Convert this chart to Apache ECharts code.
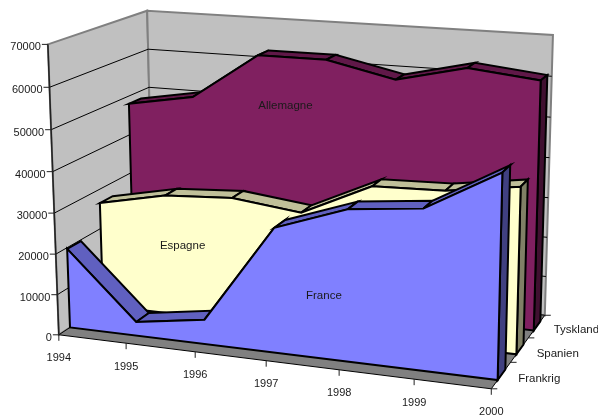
<!DOCTYPE html>
<html>
<head>
<meta charset="utf-8">
<script src="https://cdn.jsdelivr.net/npm/echarts@6/dist/echarts.min.js"></script>
<style>
  html, body { margin: 0; padding: 0; background: #fff; }
  #chart { width: 598px; height: 416px; }
</style>
</head>
<body>
<div id="chart"></div>
<script>
const years = ['1994', '1995', '1996', '1997', '1998', '1999', '2000'];
const yTicks = [0, 10000, 20000, 30000, 40000, 50000, 60000, 70000];
const depthLabels = ['Frankrig', 'Spanien', 'Tyskland'];

const france = [19700, 3400, 6000, 30000, 36000, 37800, 47500];
const espagne = [26500, 30000, 31000, 29000, 37000, 37500, 40000];
const allemagne = [48000, 51000, 62700, 62700, 59000, 63000, 61200];

// 3D box corners on screen, used to fit the perspective of the original picture
const boxCorners = [
    [0, 0, 0, 59, 335],
    [1, 0, 0, 491, 389],
    [1, 0, 1, 545, 315],
    [0, 0, 1, 153.5, 272],
    [0, 1, 0, 48, 44],
    [0, 1, 1, 147, 11],
    [1, 1, 1, 553, 35]
];

// least squares fit of a 3x4 camera matrix (last entry fixed to 1)
function fitCamera(pairs) {
    const n = 11;
    const ata = Array.from({ length: n }, () => new Array(n + 1).fill(0));
    const addRow = (row, b) => {
        for (let r = 0; r < n; r++) {
            for (let c = 0; c < n; c++) ata[r][c] += row[r] * row[c];
            ata[r][n] += row[r] * b;
        }
    };
    pairs.forEach(([u, v, w, px, py]) => {
        const X = px / 100, Y = py / 100;
        addRow([u, v, w, 1, 0, 0, 0, 0, -X * u, -X * v, -X * w], X);
        addRow([0, 0, 0, 0, u, v, w, 1, -Y * u, -Y * v, -Y * w], Y);
    });
    for (let i = 0; i < n; i++) {
        let best = i;
        for (let r = i + 1; r < n; r++) if (Math.abs(ata[r][i]) > Math.abs(ata[best][i])) best = r;
        [ata[i], ata[best]] = [ata[best], ata[i]];
        for (let r = 0; r < n; r++) {
            if (r === i) continue;
            const f = ata[r][i] / ata[i][i];
            for (let c = i; c <= n; c++) ata[r][c] -= f * ata[i][c];
        }
    }
    return ata.map((row, i) => row[n] / row[i]);
}

const cam = fitCamera(boxCorners);

function project(u, v, w) {
    const d = cam[8] * u + cam[9] * v + cam[10] * w + 1;
    return [
        100 * (cam[0] * u + cam[1] * v + cam[2] * w + cam[3]) / d,
        100 * (cam[4] * u + cam[5] * v + cam[6] * w + cam[7]) / d
    ];
}

// data value -> axis pixel (ECharts scales) -> unit box -> screen
function toScreen(api, yearIndex, value, w) {
    const o = api.coord([0, 0]);
    const e = api.coord([years.length - 1, yTicks[yTicks.length - 1]]);
    const p = api.coord([yearIndex, value]);
    return project((p[0] - o[0]) / (e[0] - o[0]), (p[1] - o[1]) / (e[1] - o[1]), w);
}

const FONT = '11px "Liberation Sans", Arial, sans-serif';
const BIG_FONT = '11.5px "Liberation Sans", Arial, sans-serif';

function poly(points, fill, stroke, lineWidth, z2) {
    return { type: 'polygon', shape: { points }, style: { fill, stroke, lineWidth }, z2 };
}

function line(a, b, stroke, lineWidth, z2) {
    return { type: 'line', shape: { x1: a[0], y1: a[1], x2: b[0], y2: b[1] }, style: { stroke, lineWidth }, z2 };
}

function label(text, x, y, align, font) {
    return { type: 'text', style: { text, x, y, align, verticalAlign: 'middle', fill: '#1a1a1a', font: font || FONT }, z2: 20 };
}

function renderFrame(params, api) {
    const last = years.length - 1;
    const top = yTicks[yTicks.length - 1];
    const at = (i, v, w) => toScreen(api, i, v, w);
    const children = [];

    // walls and floor
    children.push(poly([at(0, 0, 0), at(0, top, 0), at(0, top, 1), at(0, 0, 1)], '#c0c0c0', '#808080', 2, 1));
    children.push(poly([at(0, 0, 1), at(0, top, 1), at(last, top, 1), at(last, 0, 1)], '#c0c0c0', '#808080', 2, 1));
    children.push(poly([at(0, 0, 0), at(last, 0, 0), at(last, 0, 1), at(0, 0, 1)], '#808080', '#000', 1, 2));

    // gridlines
    yTicks.slice(1, -1).forEach(t => {
        children.push(line(at(0, t, 0), at(0, t, 1), '#000', 1, 3));
        children.push(line(at(0, t, 1), at(last, t, 1), '#000', 1, 3));
    });

    // value axis
    children.push(line(at(0, 0, 0), at(0, top, 0), '#222', 1.5, 4));
    yTicks.forEach(t => {
        const p = at(0, t, 0);
        children.push(line(p, [p[0] - 6, p[1]], '#222', 1, 4));
        children.push(label(String(t), p[0] - 7, p[1] + 3, 'right'));
    });

    // year axis
    years.forEach((y, i) => {
        const p = at(i, 0, 0);
        children.push(line(p, [p[0], p[1] + 6], '#222', 1, 4));
        children.push(label(y, p[0], p[1] + 23.5, 'center'));
    });

    // depth axis
    for (let d = 0; d <= depthLabels.length; d++) {
        const p = at(last, 0, d / depthLabels.length);
        children.push(line(p, [p[0] + 6, p[1]], '#222', 1, 4));
    }
    depthLabels.forEach((name, d) => {
        const p = at(last, 0, (d + 0.5) / depthLabels.length);
        children.push(label(name, p[0] + 17, p[1] + 3.5, 'left', BIG_FONT));
    });

    return { type: 'group', children };
}

// one band of the 3D area chart
function makeArea(values, depthIndex, colors, name, labelPos) {
    const wFront = (depthIndex + 0.32) / depthLabels.length;
    const wBack = (depthIndex + 0.72) / depthLabels.length;
    return (params, api) => {
        const i = params.dataIndex;
        const last = values.length - 1;
        const children = [];
        if (i < last) {
            children.push(poly([
                toScreen(api, i, values[i], wFront),
                toScreen(api, i + 1, values[i + 1], wFront),
                toScreen(api, i + 1, values[i + 1], wBack),
                toScreen(api, i, values[i], wBack)
            ], colors.top, '#000', 2, 1));
        } else {
            children.push(poly([
                toScreen(api, i, values[i], wFront),
                toScreen(api, i, values[i], wBack),
                toScreen(api, i, 0, wBack),
                toScreen(api, i, 0, wFront)
            ], colors.side, '#000', 2, 1));
        }
        if (i === 0) {
            const pts = values.map((v, k) => toScreen(api, k, v, wFront));
            pts.push(toScreen(api, last, 0, wFront), toScreen(api, 0, 0, wFront));
            children.push(poly(pts, colors.face, '#000', 2, 2));
            const c = toScreen(api, labelPos[0], labelPos[1], wFront);
            children.push(label(name, c[0], c[1], 'center', BIG_FONT));
        }
        return { type: 'group', children };
    };
}

function areaSeries(values, depthIndex, colors, name, labelPos) {
    return {
        type: 'custom',
        name,
        silent: true,
        z: 5 - depthIndex,
        renderItem: makeArea(values, depthIndex, colors, name, labelPos),
        data: values.map((v, i) => [i, v])
    };
}

const chart = echarts.init(document.getElementById('chart'));

chart.setOption({
    animation: false,
    backgroundColor: '#fff',
    grid: { left: 0, right: 0, top: 0, bottom: 0 },
    // value axis over the year indexes, a category axis would round the label positions
    xAxis: { type: 'value', min: 0, max: years.length - 1, interval: 1, show: false },
    yAxis: { type: 'value', min: 0, max: 70000, interval: 10000, show: false },
    series: [
        { type: 'custom', name: 'frame', silent: true, z: 1, renderItem: renderFrame, data: [[0, 0]] },
        areaSeries(allemagne, 2, { face: '#802060', top: '#601848', side: '#401030' }, 'Allemagne', [2.4, 50500]),
        areaSeries(espagne, 1, { face: '#ffffcc', top: '#c0c099', side: '#808066' }, 'Espagne', [1.25, 17700]),
        areaSeries(france, 0, { face: '#8080ff', top: '#6060c0', side: '#404080' }, 'France', [3.68, 15100])
    ]
});
</script>
</body>
</html>
